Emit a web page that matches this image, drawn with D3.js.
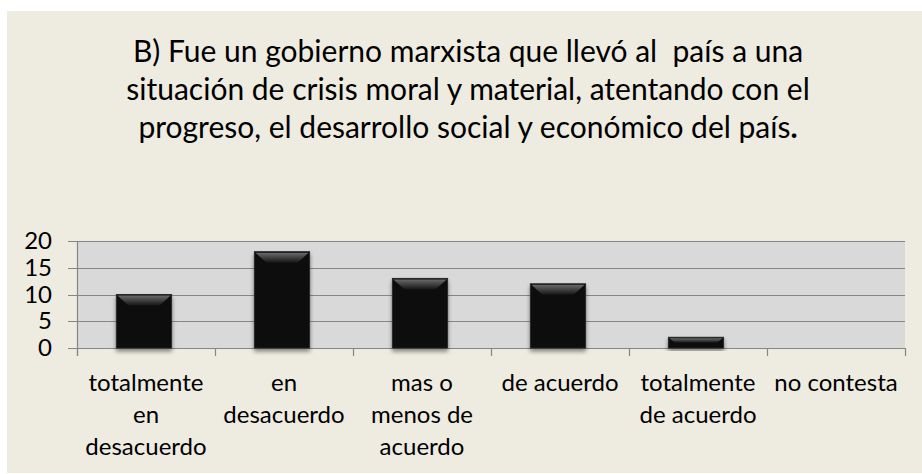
<!DOCTYPE html>
<html>
<head>
<meta charset="utf-8">
<script src="https://cdn.jsdelivr.net/npm/d3@7"></script>
<style>
  body { margin: 0; background: #ffffff; }
  svg { display: block; }
  text { white-space: pre; }
</style>
</head>
<body>
<div id="chart"></div>
<script>
// datos
var categories = [
    ["totalmente", "en", "desacuerdo"],
    ["en", "desacuerdo"],
    ["mas o", "menos de", "acuerdo"],
    ["de acuerdo"],
    ["totalmente", "de acuerdo"],
    ["no contesta"]
];
var values = [10, 18, 13, 12, 2, 0];
var yTicks = [0, 5, 10, 15, 20];
var titleLines = [
    "B) Fue un gobierno marxista que llevó al  país a una",
    "situación de crisis moral y material, atentando con el",
    "progreso, el desarrollo social y económico del país"
];

var width = 922, height = 474;
var font = "Lato, 'Open Sans', sans-serif";

var svg = d3.select("#chart")
    .append("svg")
    .attr("width", width)
    .attr("height", height)
    .attr("xmlns", "http://www.w3.org/2000/svg");

var defs = svg.append("defs");
var bevel = defs.append("linearGradient")
    .attr("id", "bevelTop")
    .attr("x1", 0).attr("y1", 0).attr("x2", 0).attr("y2", 1);
bevel.append("stop").attr("offset", "0%").attr("stop-color", "#6a6a6a");
bevel.append("stop").attr("offset", "100%").attr("stop-color", "#151515");

var shadow = defs.append("filter")
    .attr("id", "shadow")
    .attr("x", "-20%").attr("y", "-20%").attr("width", "140%").attr("height", "140%");
shadow.append("feDropShadow")
    .attr("dx", 0).attr("dy", 3)
    .attr("stdDeviation", 2)
    .attr("flood-color", "#000")
    .attr("flood-opacity", 0.45);

// panel de fondo
svg.append("rect")
    .attr("x", 7).attr("y", 11)
    .attr("width", width - 7).attr("height", 462)
    .attr("fill", "#eeebe0");

// titulo
var title = svg.append("text")
    .attr("font-family", font)
    .attr("font-size", 30)
    .attr("fill", "#000")
    .attr("text-anchor", "middle");
title.selectAll("tspan")
    .data(titleLines)
    .join("tspan")
    .attr("x", 468)
    .attr("y", function(d, i){ return 62 + i * 38; })
    .text(function(d){ return d; });
// el punto final va en negrita
title.append("tspan")
    .attr("font-weight", "bold")
    .text(".");

var plot = {left: 77, right: 905, top: 241, bottom: 348};

var x = d3.scaleBand()
    .domain(d3.range(categories.length))
    .range([plot.left, plot.right])
    .padding(0);

var y = d3.scaleLinear()
    .domain([0, 20])
    .range([plot.bottom, plot.top]);

// area del grafico
svg.append("rect")
    .attr("x", plot.left).attr("y", plot.top)
    .attr("width", plot.right - plot.left)
    .attr("height", plot.bottom - plot.top)
    .attr("fill", "#d9d9d9");

// lineas de division
svg.append("g")
    .selectAll("line")
    .data(yTicks)
    .join("line")
    .attr("x1", plot.left - 9).attr("x2", plot.right)
    .attr("y1", function(d){ return Math.round(y(d)) + 0.5; })
    .attr("y2", function(d){ return Math.round(y(d)) + 0.5; })
    .attr("stroke", "#868686")
    .attr("stroke-width", 1.2);

// eje y
var yAxis = svg.append("g")
    .attr("transform", "translate(" + (plot.left - 9) + ",0)")
    .call(d3.axisLeft(y).tickValues(yTicks).tickSize(0).tickPadding(16));
yAxis.select(".domain").remove();
yAxis.selectAll("text")
    .attr("font-family", font)
    .attr("font-size", 24)
    .attr("fill", "#000");

svg.append("line")
    .attr("x1", plot.left + 0.5).attr("x2", plot.left + 0.5)
    .attr("y1", plot.top).attr("y2", plot.bottom + 8)
    .attr("stroke", "#868686")
    .attr("stroke-width", 1.2);

// marcas del eje x
var bounds = d3.range(categories.length + 1).map(function(i){
    return plot.left + i * x.step();
});
svg.append("g")
    .selectAll("line")
    .data(bounds)
    .join("line")
    .attr("x1", function(d){ return Math.round(d) + 0.5; })
    .attr("x2", function(d){ return Math.round(d) + 0.5; })
    .attr("y1", plot.bottom).attr("y2", plot.bottom + 8)
    .attr("stroke", "#868686")
    .attr("stroke-width", 1.2);

// barras
var barW = x.bandwidth() * 0.4;
var bars = svg.append("g")
    .selectAll("g")
    .data(values.map(function(v, i){ return {i: i, v: v}; }).filter(function(d){ return d.v > 0; }))
    .join("g");

bars.append("rect")
    .attr("x", function(d){ return x(d.i) + (x.bandwidth() - barW) / 2 - 2; })
    .attr("y", function(d){ return y(d.v); })
    .attr("width", barW)
    .attr("height", function(d){ return y(0) - y(d.v); })
    .attr("fill", "#070707")
    .attr("stroke", "#2a2a2a")
    .attr("stroke-width", 1)
    .attr("filter", "url(#shadow)");

bars.append("path")
    .attr("d", function(d){
        var x0 = x(d.i) + (x.bandwidth() - barW) / 2 - 2;
        var y0 = y(d.v);
        var h = y(0) - y(d.v);
        var b = Math.min(11, h / 2);
        return "M" + (x0 + 1) + "," + (y0 + 1) +
            "L" + (x0 + barW - 1) + "," + (y0 + 1) +
            "L" + (x0 + barW - 1 - b) + "," + (y0 + b) +
            "L" + (x0 + 1 + b) + "," + (y0 + b) + "Z";
    })
    .attr("fill", "url(#bevelTop)");

// etiquetas de categorias
svg.append("g")
    .selectAll("text")
    .data(categories)
    .join("text")
    .attr("font-family", font)
    .attr("font-size", 24)
    .attr("fill", "#000")
    .attr("text-anchor", "middle")
    .each(function(lines, i){
        d3.select(this).selectAll("tspan")
            .data(lines)
            .join("tspan")
            .attr("x", x(i) + x.bandwidth() / 2)
            .attr("y", function(d, j){ return 391 + j * 32; })
            .text(function(d){ return d; });
    });
</script>
</body>
</html>
